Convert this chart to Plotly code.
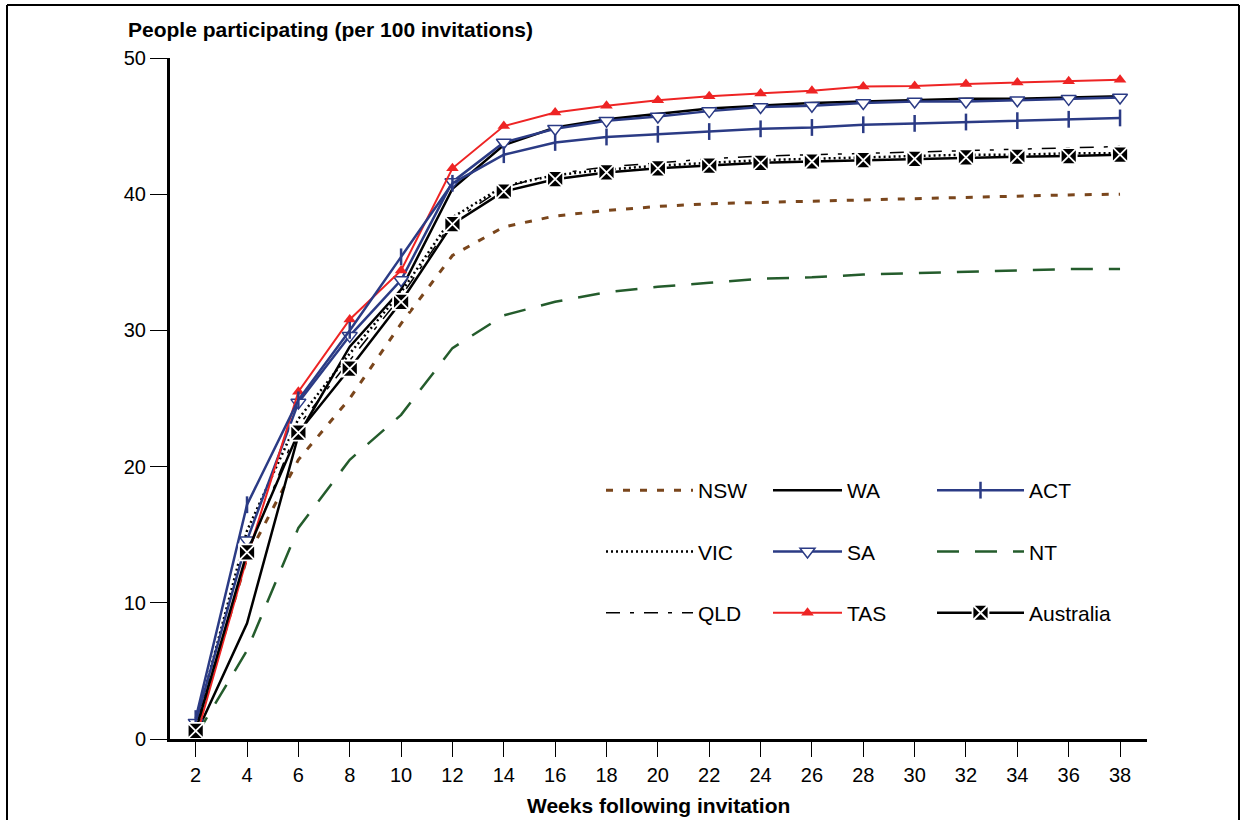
import plotly.graph_objects as go

weeks = [2, 4, 6, 8, 10, 12, 14, 16, 18, 20, 22, 24, 26, 28, 30, 32, 34, 36, 38]

NSW = [0.5, 13.3, 20.5, 25.0, 30.5, 35.5, 37.6, 38.4, 38.8, 39.1, 39.3, 39.4, 39.5, 39.6, 39.7, 39.8, 39.9, 39.95, 40.0]
VIC = [1.0, 15.3, 23.5, 28.3, 32.8, 38.3, 40.6, 41.4, 41.8, 42.1, 42.3, 42.5, 42.6, 42.7, 42.8, 42.9, 42.9, 43.0, 43.0]
QLD = [0.8, 13.5, 23.0, 27.8, 32.5, 38.0, 40.5, 41.5, 42.0, 42.3, 42.6, 42.8, 42.9, 43.0, 43.1, 43.2, 43.3, 43.4, 43.5]
WA = [0.3, 8.5, 22.3, 28.8, 33.0, 40.4, 43.6, 44.9, 45.5, 45.9, 46.3, 46.5, 46.7, 46.8, 46.9, 47.0, 47.0, 47.1, 47.2]
SA = [1.2, 14.6, 24.7, 29.6, 33.7, 40.9, 43.8, 44.8, 45.4, 45.7, 46.1, 46.4, 46.5, 46.7, 46.8, 46.8, 46.9, 47.0, 47.1]
TAS = [0.0, 13.3, 25.5, 30.8, 34.4, 41.9, 45.0, 46.0, 46.5, 46.9, 47.2, 47.4, 47.6, 47.9, 47.95, 48.1, 48.2, 48.3, 48.4]
ACT = [1.5, 17.2, 24.9, 30.0, 35.4, 40.8, 42.9, 43.8, 44.2, 44.4, 44.6, 44.8, 44.9, 45.1, 45.2, 45.3, 45.4, 45.5, 45.6]
NT = [0.2, 6.5, 15.5, 20.5, 23.8, 28.7, 31.1, 32.1, 32.8, 33.2, 33.5, 33.8, 33.9, 34.1, 34.2, 34.3, 34.4, 34.5, 34.5]
AUS = [0.6, 13.7, 22.5, 27.2, 32.1, 37.8, 40.2, 41.1, 41.6, 41.9, 42.1, 42.3, 42.4, 42.5, 42.6, 42.7, 42.75, 42.8, 42.9]

x_ticks = [2, 4, 6, 8, 10, 12, 14, 16, 18, 20, 22, 24, 26, 28, 30, 32, 34, 36, 38]
y_ticks = [0, 10, 20, 30, 40, 50]

BROWN = "#7a461c"
GREEN = "#245c2c"
BLUE = "#2b3b85"
RED = "#ee2424"
BLACK = "#000000"

FONT = "Liberation Sans, Arial, sans-serif"

fig = go.Figure()

def add(name, y, color, width, dash, legend, marker=None):
    kw = dict(x=weeks, y=y, name=name, legend=legend, legendgroup=name,
              line=dict(color=color, width=width, dash=dash))
    if marker:
        kw["mode"] = "lines+markers"
        kw["marker"] = marker
    else:
        kw["mode"] = "lines"
    fig.add_trace(go.Scatter(**kw))

add("NSW", NSW, BROWN, 3, "7px,10px", "legend")
add("VIC", VIC, BLACK, 2.5, "2px,3px", "legend")
add("QLD", QLD, BLACK, 1.5, "14px,10px,4px,10px", "legend")
add("WA", WA, BLACK, 2.5, "solid", "legend2")
add("SA", SA, BLUE, 2.5, "solid", "legend2",
    dict(symbol="triangle-down", size=13, color="white", line=dict(color=BLUE, width=1.5)))
add("TAS", TAS, RED, 2, "solid", "legend2",
    dict(symbol="triangle-up", size=11, color=RED, line=dict(color=RED, width=0)))
add("ACT", ACT, BLUE, 2.5, "solid", "legend3",
    dict(symbol="line-ns", size=12, color=BLUE, line=dict(color=BLUE, width=2.5)))
add("NT", NT, GREEN, 2.5, "22px,16px", "legend3")
add("Australia", AUS, BLACK, 2.5, "solid", "legend3",
    dict(symbol="square-x", size=16, color=BLACK, line=dict(color="white", width=1.8)))

W, H = 1245, 820
L = 170
T = 58
R = W - 1147
B = H - 739
pw = W - L - R
ph = H - T - B

def px(x):
    return (x - L) / pw

def py(y):
    return (H - B - y) / ph

leg_common = dict(xanchor="left", yanchor="top", bgcolor="rgba(0,0,0,0)",
                  font=dict(family=FONT, size=21, color="black"),
                  tracegroupgap=31)

frame = dict(color="black", width=2)

fig.update_layout(
    width=W, height=H,
    margin=dict(l=L, r=R, t=T, b=B),
    paper_bgcolor="white", plot_bgcolor="white",
    font=dict(family=FONT, size=20, color="black"),
    showlegend=True,
    legend=dict(x=px(601), y=py(470), itemwidth=87, **leg_common),
    legend2=dict(x=px(768), y=py(470), itemwidth=69, **leg_common),
    legend3=dict(x=px(932), y=py(470), itemwidth=87, **leg_common),
    xaxis=dict(range=[1, 39.05], tickmode="array", tickvals=x_ticks,
               ticktext=[str(v) for v in x_ticks],
               showgrid=False, zeroline=False, showline=True, linecolor="black",
               linewidth=3, ticks="outside", ticklen=15, tickwidth=1.2, tickcolor="black",
               tickfont=dict(size=20), ticklabelstandoff=1),
    yaxis=dict(range=[0, 50], tickmode="array", tickvals=y_ticks,
               showgrid=False, zeroline=False, showline=True, linecolor="black",
               linewidth=3, ticks="outside", ticklen=17, tickwidth=1.2, tickcolor="black",
               tickfont=dict(size=20), ticklabelstandoff=0),
    annotations=[
        dict(text="<b>People participating (per 100 invitations)</b>", x=px(126), y=py(30),
             xref="paper", yref="paper", xanchor="left", yanchor="middle",
             showarrow=False, font=dict(size=21)),
        dict(text="<b>Weeks following invitation</b>", x=px(658), y=py(805),
             xref="paper", yref="paper", xanchor="center", yanchor="middle",
             showarrow=False, font=dict(size=21)),
    ],
    shapes=[
        dict(type="line", xref="paper", yref="paper", x0=px(7), x1=px(7), y0=py(5), y1=py(830),
             line=frame, layer="above"),
        dict(type="line", xref="paper", yref="paper", x0=px(1239), x1=px(1239), y0=py(5), y1=py(830),
             line=frame, layer="above"),
        dict(type="line", xref="paper", yref="paper", x0=px(7), x1=px(1239), y0=py(5), y1=py(5),
             line=frame, layer="above"),
    ],
)

fig.write_html(
    "out.html",
    config={"displayModeBar": False},
    post_script="document.body.style.margin='0';document.body.style.overflow='hidden';",
)
